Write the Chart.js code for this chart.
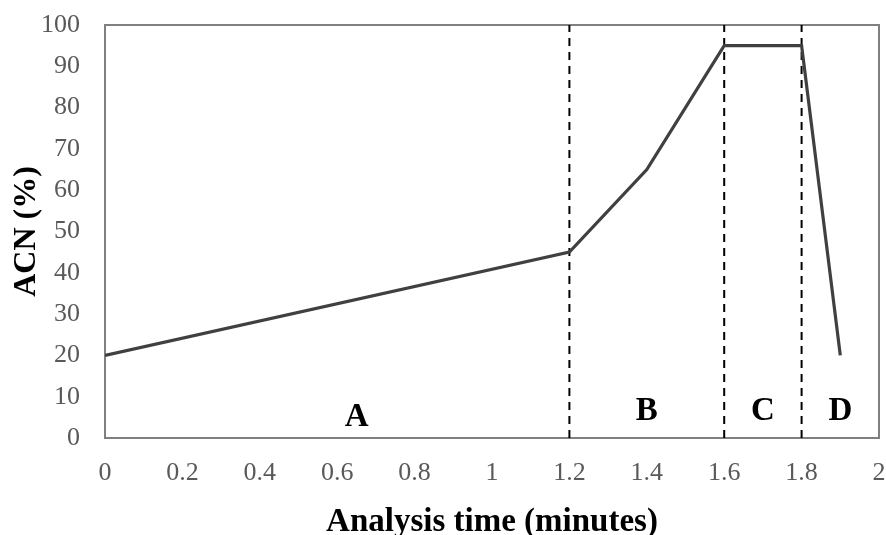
<!DOCTYPE html>
<html>
<head>
<meta charset="utf-8">
<script src="https://cdn.jsdelivr.net/npm/chart.js@4/dist/chart.umd.min.js"></script>
<style>
  body { margin: 0; background: #fff; }
  #canvas { display: block; }
</style>
</head>
<body>
<canvas id="canvas" width="886" height="535"></canvas>
<script>
// gradient program (time in minutes, ACN %)
let tempos = [0, 1.2, 1.4, 1.6, 1.8, 1.9];
let acn = [20, 45, 65, 95, 95, 20];

// phase boundaries (dashed lines) and phase letters
let limites = [1.2, 1.6, 1.8];
let fases = ['A', 'B', 'C', 'D'];
let fasesX = [0.65, 1.4, 1.7, 1.9];
let fasesY = [5, 6.5, 6.5, 6.5];

let fonte = "'Liberation Serif', 'Times New Roman', serif";

let pontos = [];
for (let i = 0; i < tempos.length; i++) {
  pontos.push({x: tempos[i], y: acn[i]});
}

let datasets = [{
  label: 'ACN',
  data: pontos,
  borderColor: '#404040',
  borderWidth: 3.2,
  pointRadius: 0,
  tension: 0
}];

for (let i = 0; i < limites.length; i++) {
  datasets.push({
    label: 'limite' + i,
    data: [{x: limites[i], y: 0}, {x: limites[i], y: 100}],
    borderColor: '#000000',
    borderWidth: 2,
    borderDash: [8, 6],
    pointRadius: 0
  });
}

// box around the plot area + phase letters
let extras = {
  id: 'extras',
  beforeDatasetsDraw(chart) {
    let ctx = chart.ctx;
    let a = chart.chartArea;
    ctx.save();
    ctx.strokeStyle = '#808080';
    ctx.lineWidth = 2;
    ctx.strokeRect(a.left, a.top, a.right - a.left, a.bottom - a.top);
    ctx.restore();
  },
  afterDatasetsDraw(chart) {
    let ctx = chart.ctx;
    let sx = chart.scales.x;
    let sy = chart.scales.y;
    ctx.save();
    ctx.fillStyle = '#000';
    ctx.font = 'bold 33px ' + fonte;
    ctx.textAlign = 'center';
    ctx.textBaseline = 'middle';
    for (let i = 0; i < fases.length; i++) {
      ctx.fillText(fases[i], sx.getPixelForValue(fasesX[i]), sy.getPixelForValue(fasesY[i]));
    }
    ctx.restore();
  }
};

let configuracao = {
  type: 'line',
  data: { datasets: datasets },
  options: {
    responsive: false,
    animation: false,
    devicePixelRatio: 1,
    layout: { padding: { left: 0, top: 25, right: 7, bottom: 0 } },
    plugins: {
      legend: { display: false },
      tooltip: { enabled: false }
    },
    scales: {
      x: {
        type: 'linear',
        min: 0,
        max: 2,
        grid: { display: false, drawTicks: false },
        border: { display: false },
        ticks: {
          stepSize: 0.2,
          padding: 20,
          color: '#595959',
          font: { family: fonte, size: 26 },
          maxRotation: 0,
          callback: function(v) { return String(+v.toFixed(1)); }
        },
        title: {
          display: true,
          text: 'Analysis time (minutes)',
          color: '#000',
          font: { family: fonte, size: 33, weight: 'bold', lineHeight: 0.75 },
          padding: { top: 0, bottom: 0 }
        },
        afterFit: function(s) {
          s.height = 97;
          s.paddingLeft = 0;
          s.paddingRight = 0;
        }
      },
      y: {
        min: 0,
        max: 100,
        grid: { display: false, drawTicks: false },
        border: { display: false },
        ticks: {
          stepSize: 10,
          padding: 25,
          color: '#595959',
          font: { family: fonte, size: 26 }
        },
        title: {
          display: true,
          text: 'ACN (%)',
          color: '#000',
          font: { family: fonte, size: 32, weight: 'bold' },
          padding: { top: 8, bottom: 0 }
        },
        afterFit: function(s) {
          s.width = 105;
          s.paddingTop = 0;
          s.paddingBottom = 0;
        }
      }
    }
  },
  plugins: [extras]
};

let chart = new Chart(document.getElementById('canvas'), configuracao);
</script>
</body>
</html>
